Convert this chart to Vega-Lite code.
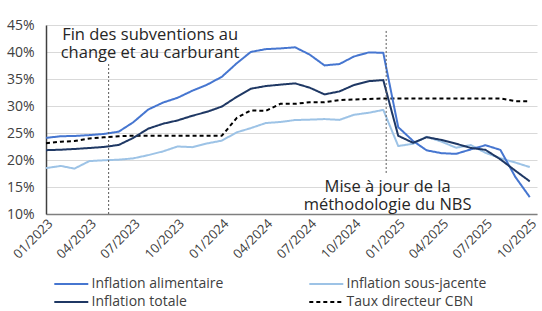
{
  "$schema": "https://vega.github.io/schema/vega-lite/v6.json",
  "autosize": "none",
  "width": 491,
  "height": 189,
  "padding": {"left": 46, "top": 25, "right": 5, "bottom": 97},
  "background": "white",
  "config": {
    "font": "Open Sans",
    "view": {"stroke": null}
  },
  "encoding": {
    "x": {
      "field": "date",
      "type": "temporal",
      "scale": {
        "type": "utc",
        "domain": [
          {"year": 2023, "month": 1, "date": 1, "utc": true},
          {"year": 2025, "month": 10, "date": 16, "utc": true}
        ]
      },
      "axis": {
        "title": null,
        "labelExpr": "utcFormat(datum.value, '%m/%Y')",
        "tickCount": {"interval": "month", "step": 3},
        "labelAngle": -45,
        "labelFontSize": 13,
        "labelColor": "#404040",
        "labelPadding": 3,
        "labelOverlap": false,
        "labelFlush": false,
        "ticks": false,
        "grid": false,
        "domainColor": "#7f7f7f",
        "domainWidth": 1.5
      }
    },
    "y": {
      "field": "value",
      "type": "quantitative",
      "scale": {"domain": [10, 45], "nice": false, "zero": false},
      "axis": {
        "title": null,
        "values": [10, 15, 20, 25, 30, 35, 40, 45],
        "labelExpr": "datum.value + '%'",
        "labelOverlap": false,
        "labelFontSize": 14,
        "labelColor": "#404040",
        "labelPadding": 12,
        "ticks": false,
        "gridColor": "#d9d9d9",
        "gridWidth": 1,
        "domainColor": "#404040",
        "domainWidth": 1.5
      }
    }
  },
  "layer": [
    {
      "data": {
        "values": [
          {"date": "2023-01-01", "serie": "Taux directeur CBN", "value": 23.1},
          {"date": "2023-02-01", "serie": "Taux directeur CBN", "value": 23.4},
          {"date": "2023-03-01", "serie": "Taux directeur CBN", "value": 23.5},
          {"date": "2023-04-01", "serie": "Taux directeur CBN", "value": 24.0},
          {"date": "2023-05-01", "serie": "Taux directeur CBN", "value": 24.2},
          {"date": "2023-06-01", "serie": "Taux directeur CBN", "value": 24.4},
          {"date": "2023-07-01", "serie": "Taux directeur CBN", "value": 24.5},
          {"date": "2023-08-01", "serie": "Taux directeur CBN", "value": 24.5},
          {"date": "2023-09-01", "serie": "Taux directeur CBN", "value": 24.5},
          {"date": "2023-10-01", "serie": "Taux directeur CBN", "value": 24.5},
          {"date": "2023-11-01", "serie": "Taux directeur CBN", "value": 24.5},
          {"date": "2023-12-01", "serie": "Taux directeur CBN", "value": 24.5},
          {"date": "2024-01-01", "serie": "Taux directeur CBN", "value": 24.5},
          {"date": "2024-02-01", "serie": "Taux directeur CBN", "value": 27.8},
          {"date": "2024-03-01", "serie": "Taux directeur CBN", "value": 29.2},
          {"date": "2024-04-01", "serie": "Taux directeur CBN", "value": 29.1},
          {"date": "2024-05-01", "serie": "Taux directeur CBN", "value": 30.4},
          {"date": "2024-06-01", "serie": "Taux directeur CBN", "value": 30.4},
          {"date": "2024-07-01", "serie": "Taux directeur CBN", "value": 30.7},
          {"date": "2024-08-01", "serie": "Taux directeur CBN", "value": 30.7},
          {"date": "2024-09-01", "serie": "Taux directeur CBN", "value": 31.1},
          {"date": "2024-10-01", "serie": "Taux directeur CBN", "value": 31.2},
          {"date": "2024-11-01", "serie": "Taux directeur CBN", "value": 31.3},
          {"date": "2024-12-01", "serie": "Taux directeur CBN", "value": 31.4},
          {"date": "2025-01-01", "serie": "Taux directeur CBN", "value": 31.4},
          {"date": "2025-02-01", "serie": "Taux directeur CBN", "value": 31.4},
          {"date": "2025-03-01", "serie": "Taux directeur CBN", "value": 31.4},
          {"date": "2025-04-01", "serie": "Taux directeur CBN", "value": 31.4},
          {"date": "2025-05-01", "serie": "Taux directeur CBN", "value": 31.4},
          {"date": "2025-06-01", "serie": "Taux directeur CBN", "value": 31.4},
          {"date": "2025-07-01", "serie": "Taux directeur CBN", "value": 31.4},
          {"date": "2025-08-01", "serie": "Taux directeur CBN", "value": 31.4},
          {"date": "2025-09-01", "serie": "Taux directeur CBN", "value": 30.9},
          {"date": "2025-10-01", "serie": "Taux directeur CBN", "value": 30.9},

          {"date": "2023-01-01", "serie": "Inflation sous-jacente", "value": 18.5},
          {"date": "2023-02-01", "serie": "Inflation sous-jacente", "value": 18.9},
          {"date": "2023-03-01", "serie": "Inflation sous-jacente", "value": 18.4},
          {"date": "2023-04-01", "serie": "Inflation sous-jacente", "value": 19.8},
          {"date": "2023-05-01", "serie": "Inflation sous-jacente", "value": 19.95},
          {"date": "2023-06-01", "serie": "Inflation sous-jacente", "value": 20.06},
          {"date": "2023-07-01", "serie": "Inflation sous-jacente", "value": 20.3},
          {"date": "2023-08-01", "serie": "Inflation sous-jacente", "value": 20.9},
          {"date": "2023-09-01", "serie": "Inflation sous-jacente", "value": 21.6},
          {"date": "2023-10-01", "serie": "Inflation sous-jacente", "value": 22.5},
          {"date": "2023-11-01", "serie": "Inflation sous-jacente", "value": 22.38},
          {"date": "2023-12-01", "serie": "Inflation sous-jacente", "value": 23.06},
          {"date": "2024-01-01", "serie": "Inflation sous-jacente", "value": 23.59},
          {"date": "2024-02-01", "serie": "Inflation sous-jacente", "value": 25.13},
          {"date": "2024-03-01", "serie": "Inflation sous-jacente", "value": 25.9},
          {"date": "2024-04-01", "serie": "Inflation sous-jacente", "value": 26.84},
          {"date": "2024-05-01", "serie": "Inflation sous-jacente", "value": 27.04},
          {"date": "2024-06-01", "serie": "Inflation sous-jacente", "value": 27.4},
          {"date": "2024-07-01", "serie": "Inflation sous-jacente", "value": 27.47},
          {"date": "2024-08-01", "serie": "Inflation sous-jacente", "value": 27.58},
          {"date": "2024-09-01", "serie": "Inflation sous-jacente", "value": 27.43},
          {"date": "2024-10-01", "serie": "Inflation sous-jacente", "value": 28.37},
          {"date": "2024-11-01", "serie": "Inflation sous-jacente", "value": 28.75},
          {"date": "2024-12-01", "serie": "Inflation sous-jacente", "value": 29.28},
          {"date": "2025-01-01", "serie": "Inflation sous-jacente", "value": 22.59},
          {"date": "2025-02-01", "serie": "Inflation sous-jacente", "value": 23.01},
          {"date": "2025-03-01", "serie": "Inflation sous-jacente", "value": 24.3},
          {"date": "2025-04-01", "serie": "Inflation sous-jacente", "value": 23.39},
          {"date": "2025-05-01", "serie": "Inflation sous-jacente", "value": 22.28},
          {"date": "2025-06-01", "serie": "Inflation sous-jacente", "value": 22.76},
          {"date": "2025-07-01", "serie": "Inflation sous-jacente", "value": 21.33},
          {"date": "2025-08-01", "serie": "Inflation sous-jacente", "value": 20.33},
          {"date": "2025-09-01", "serie": "Inflation sous-jacente", "value": 19.53},
          {"date": "2025-10-01", "serie": "Inflation sous-jacente", "value": 18.69},

          {"date": "2023-01-01", "serie": "Inflation alimentaire", "value": 24.1},
          {"date": "2023-02-01", "serie": "Inflation alimentaire", "value": 24.4},
          {"date": "2023-03-01", "serie": "Inflation alimentaire", "value": 24.45},
          {"date": "2023-04-01", "serie": "Inflation alimentaire", "value": 24.61},
          {"date": "2023-05-01", "serie": "Inflation alimentaire", "value": 24.82},
          {"date": "2023-06-01", "serie": "Inflation alimentaire", "value": 25.25},
          {"date": "2023-07-01", "serie": "Inflation alimentaire", "value": 26.98},
          {"date": "2023-08-01", "serie": "Inflation alimentaire", "value": 29.34},
          {"date": "2023-09-01", "serie": "Inflation alimentaire", "value": 30.64},
          {"date": "2023-10-01", "serie": "Inflation alimentaire", "value": 31.52},
          {"date": "2023-11-01", "serie": "Inflation alimentaire", "value": 32.84},
          {"date": "2023-12-01", "serie": "Inflation alimentaire", "value": 33.93},
          {"date": "2024-01-01", "serie": "Inflation alimentaire", "value": 35.41},
          {"date": "2024-02-01", "serie": "Inflation alimentaire", "value": 37.92},
          {"date": "2024-03-01", "serie": "Inflation alimentaire", "value": 40.01},
          {"date": "2024-04-01", "serie": "Inflation alimentaire", "value": 40.53},
          {"date": "2024-05-01", "serie": "Inflation alimentaire", "value": 40.66},
          {"date": "2024-06-01", "serie": "Inflation alimentaire", "value": 40.87},
          {"date": "2024-07-01", "serie": "Inflation alimentaire", "value": 39.53},
          {"date": "2024-08-01", "serie": "Inflation alimentaire", "value": 37.52},
          {"date": "2024-09-01", "serie": "Inflation alimentaire", "value": 37.77},
          {"date": "2024-10-01", "serie": "Inflation alimentaire", "value": 39.16},
          {"date": "2024-11-01", "serie": "Inflation alimentaire", "value": 39.93},
          {"date": "2024-12-01", "serie": "Inflation alimentaire", "value": 39.84},
          {"date": "2025-01-01", "serie": "Inflation alimentaire", "value": 26.08},
          {"date": "2025-02-01", "serie": "Inflation alimentaire", "value": 23.51},
          {"date": "2025-03-01", "serie": "Inflation alimentaire", "value": 21.79},
          {"date": "2025-04-01", "serie": "Inflation alimentaire", "value": 21.26},
          {"date": "2025-05-01", "serie": "Inflation alimentaire", "value": 21.14},
          {"date": "2025-06-01", "serie": "Inflation alimentaire", "value": 21.97},
          {"date": "2025-07-01", "serie": "Inflation alimentaire", "value": 22.74},
          {"date": "2025-08-01", "serie": "Inflation alimentaire", "value": 21.87},
          {"date": "2025-09-01", "serie": "Inflation alimentaire", "value": 16.87},
          {"date": "2025-10-01", "serie": "Inflation alimentaire", "value": 13.12},

          {"date": "2023-01-01", "serie": "Inflation totale", "value": 21.82},
          {"date": "2023-02-01", "serie": "Inflation totale", "value": 21.91},
          {"date": "2023-03-01", "serie": "Inflation totale", "value": 22.04},
          {"date": "2023-04-01", "serie": "Inflation totale", "value": 22.22},
          {"date": "2023-05-01", "serie": "Inflation totale", "value": 22.41},
          {"date": "2023-06-01", "serie": "Inflation totale", "value": 22.79},
          {"date": "2023-07-01", "serie": "Inflation totale", "value": 24.08},
          {"date": "2023-08-01", "serie": "Inflation totale", "value": 25.8},
          {"date": "2023-09-01", "serie": "Inflation totale", "value": 26.72},
          {"date": "2023-10-01", "serie": "Inflation totale", "value": 27.33},
          {"date": "2023-11-01", "serie": "Inflation totale", "value": 28.2},
          {"date": "2023-12-01", "serie": "Inflation totale", "value": 28.92},
          {"date": "2024-01-01", "serie": "Inflation totale", "value": 29.9},
          {"date": "2024-02-01", "serie": "Inflation totale", "value": 31.7},
          {"date": "2024-03-01", "serie": "Inflation totale", "value": 33.2},
          {"date": "2024-04-01", "serie": "Inflation totale", "value": 33.69},
          {"date": "2024-05-01", "serie": "Inflation totale", "value": 33.95},
          {"date": "2024-06-01", "serie": "Inflation totale", "value": 34.19},
          {"date": "2024-07-01", "serie": "Inflation totale", "value": 33.4},
          {"date": "2024-08-01", "serie": "Inflation totale", "value": 32.15},
          {"date": "2024-09-01", "serie": "Inflation totale", "value": 32.7},
          {"date": "2024-10-01", "serie": "Inflation totale", "value": 33.88},
          {"date": "2024-11-01", "serie": "Inflation totale", "value": 34.6},
          {"date": "2024-12-01", "serie": "Inflation totale", "value": 34.8},
          {"date": "2025-01-01", "serie": "Inflation totale", "value": 24.48},
          {"date": "2025-02-01", "serie": "Inflation totale", "value": 23.18},
          {"date": "2025-03-01", "serie": "Inflation totale", "value": 24.23},
          {"date": "2025-04-01", "serie": "Inflation totale", "value": 23.71},
          {"date": "2025-05-01", "serie": "Inflation totale", "value": 23.02},
          {"date": "2025-06-01", "serie": "Inflation totale", "value": 22.22},
          {"date": "2025-07-01", "serie": "Inflation totale", "value": 21.88},
          {"date": "2025-08-01", "serie": "Inflation totale", "value": 20.12},
          {"date": "2025-09-01", "serie": "Inflation totale", "value": 18.02},
          {"date": "2025-10-01", "serie": "Inflation totale", "value": 16.05}
        ]
      },
      "mark": {"type": "line", "strokeJoin": "round", "strokeCap": "butt"},
      "encoding": {
        "color": {
          "field": "serie",
          "type": "nominal",
          "scale": {
            "domain": ["Inflation alimentaire", "Inflation sous-jacente", "Inflation totale", "Taux directeur CBN"],
            "range": ["#4676d0", "#9dc3e6", "#1f3864", "#000000"]
          },
          "legend": {
            "title": null,
            "orient": "none",
            "direction": "horizontal",
            "legendX": 1.3,
            "legendY": 252,
            "columns": 2,
            "columnPadding": 78,
            "rowPadding": 4,
            "padding": 0,
            "symbolType": "M0,0H6",
            "symbolSize": 128.4,
            "labelFontSize": 14,
            "labelColor": "#404040",
            "labelOffset": 30.3,
            "labelLimit": 300
          }
        },
        "strokeDash": {
          "field": "serie",
          "type": "nominal",
          "scale": {
            "domain": ["Inflation alimentaire", "Inflation sous-jacente", "Inflation totale", "Taux directeur CBN"],
            "range": [[1, 0], [1, 0], [1, 0], [4, 3]]
          }
        },
        "strokeWidth": {
          "field": "serie",
          "type": "nominal",
          "scale": {
            "domain": ["Inflation alimentaire", "Inflation sous-jacente", "Inflation totale", "Taux directeur CBN"],
            "range": [2, 2, 3, 2]
          }
        }
      }
    },
    {
      "data": {
        "values": [
          {"date": "2023-05-11", "value": 10, "value2": 37.8},
          {"date": "2024-12-07", "value": 17.6, "value2": 43.9}
        ]
      },
      "mark": {"type": "rule", "strokeDash": [2, 2], "color": "#595959", "strokeWidth": 1},
      "encoding": {
        "y2": {"field": "value2"}
      }
    },
    {
      "data": {
        "values": [
          {"date": "2023-08-05", "value": 44.6, "label": "Fin des subventions au\nchange et au carburant"},
          {"date": "2024-12-10", "value": 16.5, "label": "Mise à jour de la\nméthodologie du NBS"}
        ]
      },
      "mark": {"type": "text", "lineBreak": "\n", "baseline": "top", "align": "center", "fontSize": 16.5, "lineHeight": 18, "color": "#262626"},
      "encoding": {
        "text": {"field": "label"}
      }
    }
  ]
}
